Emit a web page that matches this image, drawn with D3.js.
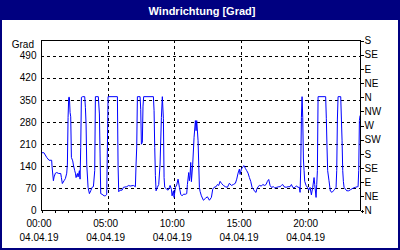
<!DOCTYPE html>
<html><head><meta charset="utf-8">
<script src="https://cdn.jsdelivr.net/npm/d3@7"></script>
<style>
body{margin:0;background:#fff}
svg{display:block}
text{font-family:"Liberation Sans",Arial,sans-serif}
</style></head><body>
<svg id="c" width="400" height="250"></svg>
<script>
const title = "Windrichtung [Grad]";
const yLabel = "Grad";
const leftTicks = [0,70,140,210,280,350,420,490];
const rightTickValues = [0,45,90,135,180,225,270,315,360,405,450,495,540];
const rightTickLabels = ["N","NE","E","SE","S","SW","W","NW","N","NE","E","SE","S"];
const xTickHours = [0,5,10,15,20];
const xTickTimes = ["00:00","05:00","10:00","15:00","20:00"];
const xTickDate = "04.04.19";
const hours = [0,0.22,0.43,0.6,0.8,0.83,0.93,0.98,1.08,1.18,1.33,1.48,1.53,1.6,1.73,1.83,1.93,1.98,2.03,2.08,2.13,2.18,2.23,2.28,2.38,2.43,2.53,2.58,2.63,2.73,2.78,2.88,2.93,2.98,3.03,3.13,3.28,3.33,3.38,3.43,3.53,3.63,3.73,3.83,3.93,4.03,4.08,4.3,4.38,4.43,4.48,4.58,4.73,4.83,4.93,4.98,5.03,5.73,5.78,5.83,5.93,6.08,6.18,6.43,6.58,6.68,6.93,7.08,7.13,7.18,7.23,7.43,7.48,7.53,7.6,7.65,7.7,8.43,8.48,8.53,8.58,8.63,8.73,8.83,8.93,9.03,9.1,9.18,9.23,9.28,9.43,9.53,9.63,9.68,9.78,9.83,9.93,9.98,10.08,10.18,10.28,10.38,10.48,10.58,10.68,10.83,10.93,10.98,11.08,11.13,11.18,11.23,11.28,11.38,11.48,11.58,11.63,11.68,11.78,11.83,11.88,11.93,12.03,12.18,12.33,12.48,12.63,12.78,12.88,12.98,13.13,13.23,13.33,13.43,13.53,13.68,13.83,13.98,14.13,14.28,14.43,14.58,14.68,14.78,14.88,14.93,15.03,15.13,15.23,15.33,15.43,15.53,15.63,15.73,15.83,15.93,16.03,16.13,16.18,16.28,16.38,16.53,16.63,16.78,16.88,16.98,17.08,17.18,17.28,17.43,17.53,17.68,17.83,17.93,18.03,18.13,18.23,18.38,18.53,18.68,18.78,18.88,18.98,19.08,19.18,19.28,19.38,19.43,19.48,19.53,19.58,19.63,19.68,19.73,19.78,19.88,19.98,20.08,20.18,20.28,20.38,20.48,20.53,20.63,20.68,20.73,20.78,21.35,21.4,21.45,21.5,21.6,21.7,21.83,21.93,22.03,22.13,22.18,22.23,22.28,22.48,22.53,22.58,22.63,22.68,22.73,22.93,23.08,23.23,23.43,23.58,23.73,23.78,23.83,23.88,23.93];
const values = [182,182,167,158,158,137,93,105,117,119,116,116,103,84,93,100,117,146,294,358,358,310,296,167,156,143,125,117,103,116,105,125,98,199,358,360,360,326,273,146,72,52,61,72,74,125,360,360,305,178,52,50,45,45,50,200,360,360,140,58,63,63,72,74,78,76,78,74,146,200,360,360,320,209,215,330,360,360,316,199,109,61,72,81,146,294,360,290,103,72,66,63,72,78,66,45,61,40,72,80,98,72,50,45,50,50,52,81,119,93,110,151,90,146,231,284,252,284,220,146,72,59,45,31,37,42,31,40,66,72,74,81,78,91,85,78,74,72,85,78,81,85,98,117,130,113,130,137,141,132,125,117,103,91,72,66,59,56,66,74,78,76,81,78,81,91,97,78,72,74,70,72,74,74,78,81,74,72,74,74,81,72,70,74,76,72,72,56,130,294,360,294,162,125,91,78,72,63,72,48,72,103,81,40,81,125,360,360,290,200,125,93,60,56,61,66,72,125,289,360,360,289,220,125,90,72,61,61,65,70,72,74,74,125,284,300,360];

const svg = d3.select("#c");
const W = 400, H = 250;
const x = d3.scaleLinear().domain([0,24]).range([41,361]);
const y = d3.scaleLinear().domain([0,540]).range([210,40]);
const navy = "#000080";

svg.append("rect").attr("x",1).attr("y",1).attr("width",W-2).attr("height",H-2)
  .attr("fill","#fff").attr("stroke",navy).attr("stroke-width",2);
svg.append("rect").attr("x",0).attr("y",0).attr("width",W).attr("height",20).attr("fill",navy);
svg.append("text").attr("x",202).attr("y",15).attr("text-anchor","middle")
  .attr("fill","#fff").attr("font-size","11px").attr("font-weight","bold").text(title);

// grid
const g = svg.append("g").attr("shape-rendering","crispEdges");
g.selectAll("line.h").data(leftTicks.filter(d=>d>0)).join("line")
  .attr("x1",x(0)).attr("x2",x(24)).attr("y1",d=>Math.round(y(d))+0.5).attr("y2",d=>Math.round(y(d))+0.5)
  .attr("stroke","#000").attr("stroke-dasharray","3,3");
g.selectAll("line.v").data(xTickHours.filter(d=>d>0)).join("line")
  .attr("x1",d=>Math.round(x(d))+0.5).attr("x2",d=>Math.round(x(d))+0.5).attr("y1",y(540)).attr("y2",y(0))
  .attr("stroke","#000").attr("stroke-dasharray","3,3");

// line
const line = d3.line().x((d,i)=>x(hours[i])).y(d=>y(d));
svg.append("path").datum(values).attr("d",line).attr("fill","none")
  .attr("stroke","#0000ff").attr("stroke-width",1);

// frame
svg.append("rect").attr("x",x(0)+0.5).attr("y",y(540)+0.5)
  .attr("width",x(24)-x(0)-1).attr("height",y(0)-y(540)).attr("fill","none").attr("stroke","#000")
  .attr("shape-rendering","crispEdges");

// left axis labels
const la = svg.append("g").attr("transform",`translate(${x(0)+0.5},0)`)
  .call(d3.axisLeft(y).tickValues(leftTicks).tickSize(0).tickPadding(5));
la.select(".domain").remove();
la.selectAll("text").attr("font-size","10px").attr("font-family","Liberation Sans");
svg.append("text").attr("x",34).attr("y",48).attr("text-anchor","end")
  .attr("font-size","10px").text(yLabel);

// right axis
const ra = svg.append("g").attr("transform",`translate(${x(24)-0.5},0.5)`)
  .attr("shape-rendering","crispEdges")
  .call(d3.axisRight(y).tickValues(rightTickValues).tickSize(3).tickPadding(1)
    .tickFormat((d,i)=>rightTickLabels[i]));
ra.select(".domain").remove();
ra.selectAll("text").attr("font-size","10px").attr("font-family","Liberation Sans");

// bottom minor ticks
const ba = svg.append("g").attr("transform",`translate(0.5,${y(0)})`)
  .attr("shape-rendering","crispEdges")
  .call(d3.axisBottom(x).tickValues(d3.range(0,25)).tickSize(3).tickFormat(""));
ba.select(".domain").remove();

// bottom labels
const bl = svg.append("g");
bl.selectAll("text.t").data(xTickHours).join("text")
  .attr("x",d=>x(d)-2).attr("y",227).attr("text-anchor","middle").attr("font-size","10px")
  .text((d,i)=>xTickTimes[i]);
bl.selectAll("text.d").data(xTickHours).join("text")
  .attr("x",d=>x(d)-2).attr("y",241).attr("text-anchor","middle").attr("font-size","10px")
  .text(xTickDate);
</script>
</body></html>
